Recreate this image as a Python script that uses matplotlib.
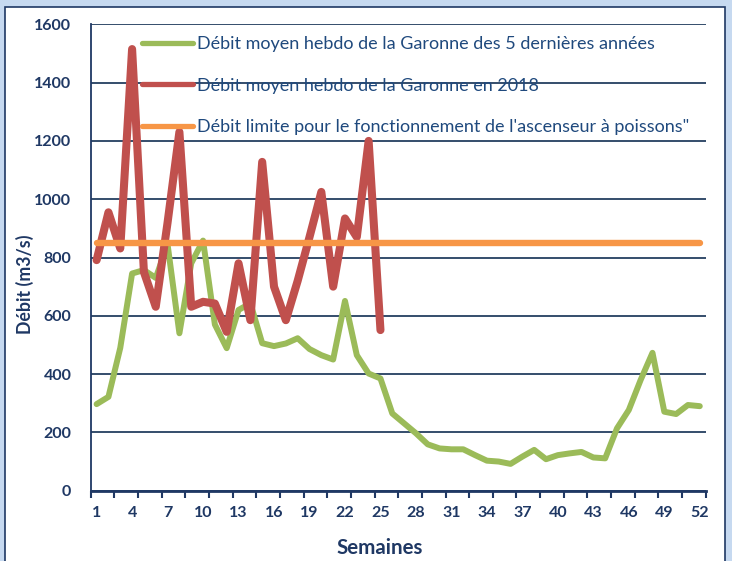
import matplotlib
matplotlib.use("Agg")
import matplotlib.pyplot as plt
from matplotlib.patches import Rectangle
import numpy as np

weeks = list(range(1, 53))
green_5ans = [297, 322, 490, 745, 757, 730, 845, 540, 780, 858,
              570, 489, 620, 643, 506, 496, 505, 523, 486, 465,
              450, 651, 465, 402, 385, 265, 231, 197, 159, 145,
              142, 142, 122, 103, 100, 92, 117, 140, 108, 122,
              128, 133, 114, 111, 214, 277, 380, 473, 271, 263,
              294, 290]
weeks_2018 = list(range(1, 26))
red_2018 = [791, 955, 831, 1515, 750, 631, 920, 1231, 631, 648,
            642, 545, 780, 585, 1128, 700, 585, 720, 870, 1025,
            700, 934, 870, 1200, 551]
limite = 850

labels = ["Débit moyen hebdo de la Garonne des 5 dernières années",
          "Débit moyen hebdo de la Garonne en 2018",
          "Débit limite pour le fonctionnement de l'ascenseur à poissons\""]
xtick_labels = list(range(1, 53, 3))
yticks = list(range(0, 1601, 200))

navy = "#1F3864"
txtblue = "#1F497D"
c_green = "#9BBB59"
c_red = "#C0504D"
c_orange = "#F79646"

W, H = 732, 561
fig = plt.figure(figsize=(W / 100, H / 100), dpi=100)
fig.patch.set_facecolor("#C6D9F0")
fig.patches.append(Rectangle((5 / W, -0.02), 720 / W, 1 - 7 / H + 0.02,
                             transform=fig.transFigure, facecolor="white",
                             edgecolor=navy, linewidth=1.2, zorder=-10))

ax = fig.add_axes([90.7 / W, 1 - 490.7 / H, (705.7 - 90.7) / W, (490.7 - 24.3) / H])
ax.set_facecolor("none")

ax.plot(weeks, green_5ans, color=c_green, lw=4.3, solid_capstyle="round",
        solid_joinstyle="round", label=labels[0], zorder=3)
ax.plot(weeks_2018, red_2018, color=c_red, lw=5.8, solid_capstyle="round",
        solid_joinstyle="round", label=labels[1], zorder=4)
ax.plot(weeks, [limite] * len(weeks), color=c_orange, lw=4.6,
        solid_capstyle="round", label=labels[2], zorder=5)

ax.set_xlim(0.5, 52.5)
ax.set_ylim(0, 1600)
ax.set_yticks(yticks)
ax.set_xticks(xtick_labels)
ax.set_xticks(np.arange(0.5, 53, 2), minor=True)
ax.tick_params(axis="x", which="major", length=0, pad=11, labelsize=11.5,
               labelcolor=navy)
ax.tick_params(axis="x", which="minor", length=5, width=1.5, color=navy,
               direction="out")
ax.tick_params(axis="y", which="both", length=0, pad=14, labelsize=11.5,
               labelcolor=navy)
for lab in ax.get_xticklabels() + ax.get_yticklabels():
    lab.set_fontweight("bold")
    lab.set_family("Lato")

ax.grid(axis="y", color="#243F60", lw=1.3, zorder=1)
ax.set_axisbelow(True)
for s in ["top", "right"]:
    ax.spines[s].set_visible(False)
ax.spines["left"].set_color(navy)
ax.spines["left"].set_linewidth(1.3)
ax.spines["bottom"].set_color(navy)
ax.spines["bottom"].set_linewidth(2)

fig.text(25 / W, 1 - 284 / H, "Débit (m3/s)", rotation=90, ha="center",
         va="center", fontsize=12.8, fontweight="bold", color=navy, family="Lato")
fig.text(380 / W, 1 - 548 / H, "Semaines", ha="center", va="center",
         fontsize=14.8, fontweight="bold", color=navy, family="Lato")

leg = ax.legend(loc="upper left", bbox_to_anchor=(142 / W, 1 - 36 / H),
                bbox_transform=fig.transFigure, frameon=False,
                handlelength=2.8, handletextpad=0.25, labelspacing=1.42,
                borderaxespad=0, borderpad=0,
                prop={"family": "Lato", "size": 13})
for t in leg.get_texts():
    t.set_color(txtblue)
for l in leg.get_lines():
    l.set_linewidth(3.8)

fig.savefig("out.png", dpi=100)
